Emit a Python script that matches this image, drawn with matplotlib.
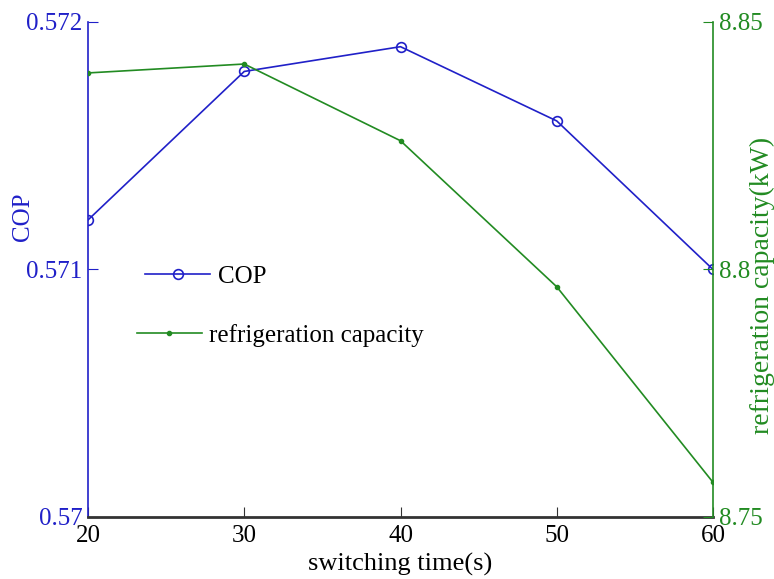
import matplotlib.pyplot as plt

plt.rcParams['font.family'] = ['Liberation Serif', 'DejaVu Serif']

# data
switching_time = [20, 30, 40, 50, 60]
cop = [0.5712, 0.5718, 0.5719, 0.5716, 0.5710]
capacity = [8.8397, 8.8415, 8.8260, 8.7965, 8.7570]

blue = '#2020c8'
green = '#228B22'

fig = plt.figure(figsize=(7.74, 5.79), dpi=100)
ax = fig.add_axes([0.1137, 0.1071, 0.8075, 0.855])
ax2 = ax.twinx()

l1, = ax.plot(switching_time, cop, color=blue, lw=1.2, marker='o', ms=7,
              mfc='none', mec=blue, mew=1.2, label='COP')
l2, = ax2.plot(switching_time, capacity, color=green, lw=1.2, marker='.', ms=6,
               label='refrigeration capacity')

ax.set_xlim(20, 60)
ax.set_ylim(0.570, 0.572)
ax2.set_ylim(8.75, 8.85)
ax.set_xticks([20, 30, 40, 50, 60])
ax.set_yticks([0.570, 0.571, 0.572])
ax.set_yticklabels(['0.57', '0.571', '0.572'])
ax2.set_yticks([8.75, 8.80, 8.85])
ax2.set_yticklabels(['8.75', '8.8', '8.85'])

for a in (ax, ax2):
    a.spines['top'].set_visible(False)
ax.spines['left'].set_color(blue)
ax.spines['left'].set_linewidth(1.2)
ax.spines['right'].set_visible(False)
ax2.spines['left'].set_visible(False)
ax2.spines['right'].set_color(green)
ax2.spines['right'].set_linewidth(1.2)
ax2.spines['bottom'].set_visible(False)
ax.spines['bottom'].set_color('#333333')
ax.spines['bottom'].set_linewidth(2)

ax.tick_params(axis='x', direction='in', length=7, labelsize=18, colors='#333333',
               labelcolor='black', pad=6)
ax.tick_params(axis='y', direction='in', length=7, labelsize=18, colors=blue, pad=4)
ax2.tick_params(axis='y', direction='in', length=7, labelsize=18, colors=green, pad=4)

ax.set_xlabel('switching time(s)', fontsize=19)
ax.xaxis.set_label_coords(0.5, -0.072)
ax.set_ylabel('COP', fontsize=18, color=blue, va='center')
ax.yaxis.set_label_coords(-0.104, 0.606)
ax2.set_ylabel('refrigeration capacity(kW)', fontsize=20, color=green,
               rotation=90, va='center')
ax2.yaxis.set_label_coords(1.079, 0.467)

ax.legend(handles=[l1], loc='center left', bbox_to_anchor=(0.175, 0.5216),
          bbox_transform=fig.transFigure, frameon=False, fontsize=18,
          handlelength=2.6, handletextpad=0.3, borderaxespad=0)
ax2.legend(handles=[l2], loc='center left', bbox_to_anchor=(0.164, 0.4214),
           bbox_transform=fig.transFigure, frameon=False, fontsize=18,
           handlelength=2.6, handletextpad=0.3, borderaxespad=0)

fig.savefig('out.png', dpi=100)
